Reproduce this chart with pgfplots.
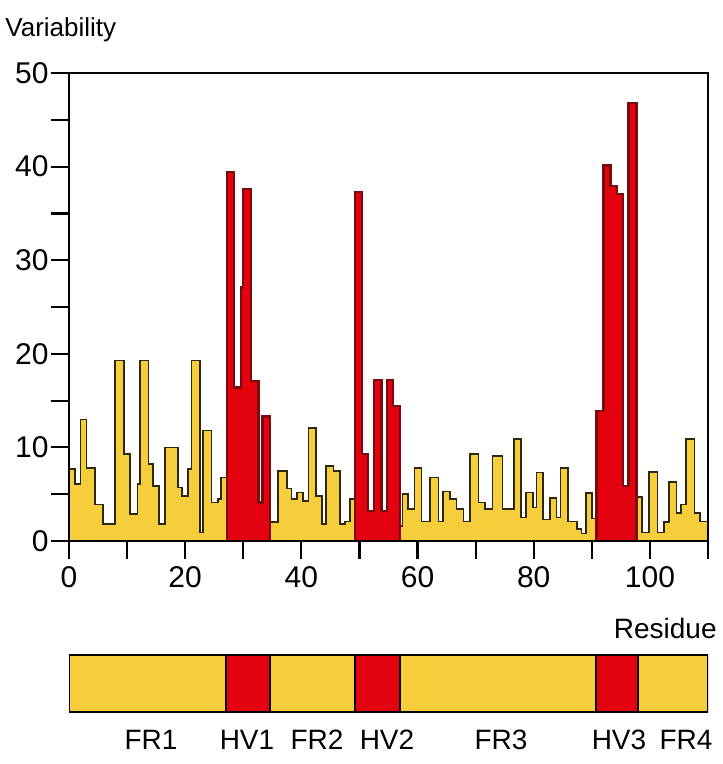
\documentclass[border=0pt]{standalone}
\usepackage{fontspec}
\setmainfont{Liberation Sans}
\usepackage{pgfplots}
\usepackage{pgfplotstable}
\pgfplotsset{compat=1.18}
\definecolor{fyel}{HTML}{F6CE3C}
\definecolor{ydark}{HTML}{2E2806}
\definecolor{hvred}{HTML}{E3000F}
\definecolor{hvdark}{HTML}{7A0A0C}

% residue position (left edge of step), variability
\pgfplotstableread{
x v
0 7.7
1.0 6.1
2.0 13.0
3.0 7.8
4.5 3.9
5.9 1.8
7.9 19.3
9.5 9.3
10.5 2.9
11.8 6.1
12.2 19.3
13.7 8.2
14.5 5.9
15.5 1.8
16.5 10.0
18.8 5.7
19.5 4.8
20.5 7.7
21.1 19.3
22.5 0.9
23.1 11.8
24.5 4.1
25.6 4.5
26.2 6.8
27.2 39.4
28.4 16.4
29.6 27.1
30.0 37.6
31.3 17.1
32.6 4.1
33.3 13.3
34.6 2.0
36.0 7.5
37.5 5.6
38.3 4.5
39.2 5.2
40.3 4.3
41.2 12.1
42.5 4.8
43.5 1.8
44.2 8.0
45.5 7.5
46.6 1.8
47.5 2.1
48.4 4.5
49.2 37.3
50.4 9.3
51.5 3.2
52.5 17.2
53.8 3.2
54.7 17.2
55.8 14.4
57.0 1.6
57.4 5.0
58.4 3.4
59.5 7.8
60.7 2.1
62.1 6.8
63.6 2.1
64.4 5.3
65.6 4.5
66.7 3.4
67.9 2.1
69.0 9.3
70.5 4.1
71.6 3.4
72.9 9.1
74.6 3.4
76.6 10.9
77.8 2.5
78.7 5.2
79.9 3.6
80.5 7.3
81.6 2.3
82.8 4.6
83.9 2.5
84.6 7.8
85.9 2.1
87.4 1.3
88.2 0.8
89.0 5.1
90.0 2.4
90.8 13.9
92.0 40.1
93.2 37.9
94.3 37.1
95.4 5.9
96.3 46.8
97.7 4.7
98.6 0.9
99.8 7.4
101.3 0.9
102.4 2.0
103.3 6.3
104.6 3.0
105.3 3.9
106.2 10.9
107.7 3.0
108.6 2.1
110 2.1
}\vardata

\begin{document}
\begin{tikzpicture}
\path[use as bounding box] (-34.5pt,-111.5pt) rectangle (326.5pt,270.5pt);
\begin{axis}[
  scale only axis, width=319.5pt, height=234pt,
  at={(0,0)}, anchor=south west,
  xmin=0, xmax=110, ymin=0, ymax=50,
  xtick={0,10,...,110}, xticklabels={0,,20,,40,,60,,80,,100,},
  ytick={0,5,...,50}, yticklabels={0,,10,,20,,30,,40,,50},
  tick align=outside, xtick pos=bottom, ytick pos=left,
  major tick length=9pt,
  tick style={black, line width=1.1pt},
  axis line style={line width=1pt},
  ticklabel style={font=\fontsize{15}{17}\selectfont},
  /pgf/number format/assume math mode=true,
  yticklabel style={inner sep=1pt},
  axis on top,
]
\addplot[const plot, fill=fyel, draw=ydark, line width=0.8pt] table {\vardata} \closedcycle;
\addplot[const plot, fill=hvred, draw=hvdark, line width=1.2pt, restrict x to domain=27.1:34.7] table {\vardata} \closedcycle;
\addplot[const plot, fill=hvred, draw=hvdark, line width=1.2pt, restrict x to domain=49.1:57.05] table {\vardata} \closedcycle;
\addplot[const plot, fill=hvred, draw=hvdark, line width=1.2pt, restrict x to domain=90.7:97.8] table {\vardata} \closedcycle;
\end{axis}

\begin{axis}[
  scale only axis, width=319.5pt, height=28.5pt,
  at={(0,-57pt)}, anchor=north west,
  xmin=0, xmax=110, ymin=0, ymax=1,
  axis lines=none, ticks=none,
]
\addplot[fill=fyel, draw=black, line width=1pt] coordinates {(0,1) (27.0,1)} \closedcycle;
\addplot[fill=hvred, draw=black, line width=1pt] coordinates {(27.0,1) (34.6,1)} \closedcycle;
\addplot[fill=fyel, draw=black, line width=1pt] coordinates {(34.6,1) (49.2,1)} \closedcycle;
\addplot[fill=hvred, draw=black, line width=1pt] coordinates {(49.2,1) (57.0,1)} \closedcycle;
\addplot[fill=fyel, draw=black, line width=1pt] coordinates {(57.0,1) (90.8,1)} \closedcycle;
\addplot[fill=hvred, draw=black, line width=1pt] coordinates {(90.8,1) (98.0,1)} \closedcycle;
\addplot[fill=fyel, draw=black, line width=1pt] coordinates {(98.0,1) (110,1)} \closedcycle;
\end{axis}

\node[anchor=west, font=\fontsize{13}{15}\selectfont, inner sep=0pt] at (-32pt,255.5pt) {Variability};
\node[anchor=east, font=\fontsize{14}{16}\selectfont, inner sep=0pt] at (324pt,-43.5pt) {Residue};
\begin{scope}[every node/.style={font=\fontsize{14}{16}\selectfont, inner sep=0pt}]
\node at (41pt,-99.5pt) {FR1};
\node at (89pt,-99.5pt) {HV1};
\node at (124pt,-99.5pt) {FR2};
\node at (159pt,-99.5pt) {HV2};
\node at (216pt,-99.5pt) {FR3};
\node at (275pt,-99.5pt) {HV3};
\node at (308.5pt,-99.5pt) {FR4};
\end{scope}
\end{tikzpicture}
\end{document}
